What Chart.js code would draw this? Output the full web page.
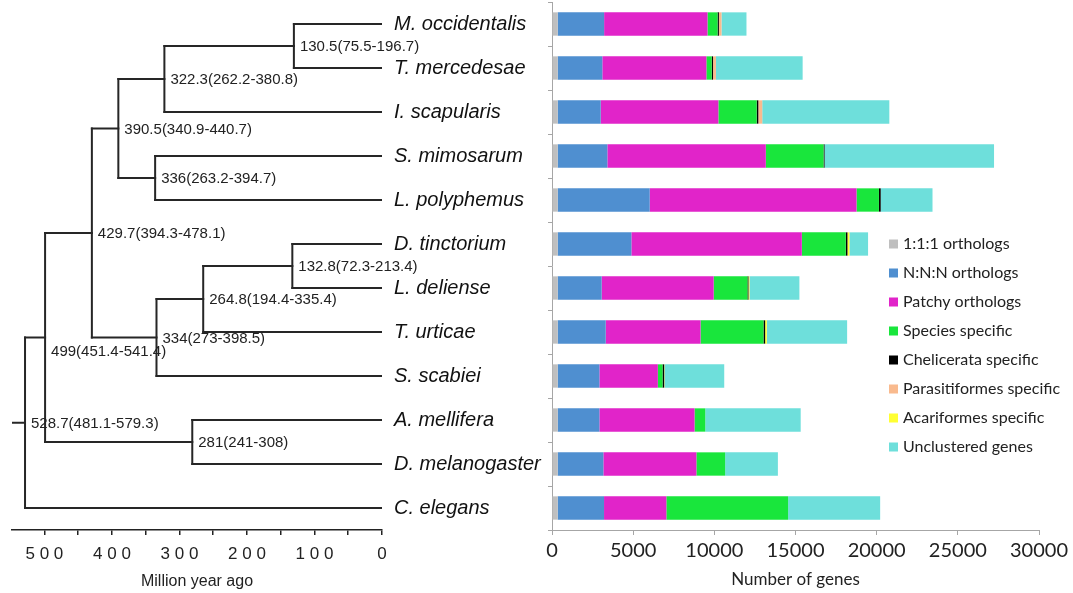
<!DOCTYPE html>
<html>
<head>
<meta charset="utf-8">
<script src="https://cdn.jsdelivr.net/npm/chart.js@4"></script>
<style>
  body { margin: 0; background: #fff; width: 1073px; height: 593px; overflow: hidden; position: relative; }
  #treeChart { position: absolute; left: 0; top: 0; }
  #geneChart { position: absolute; left: 540px; top: 0; }
</style>
</head>
<body>
<canvas id="treeChart" width="547" height="593"></canvas>
<canvas id="geneChart" width="533" height="593"></canvas>
<script>
// ---------------- data ----------------
const species = ['M. occidentalis', 'T. mercedesae', 'I. scapularis', 'S. mimosarum', 'L. polyphemus',
  'D. tinctorium', 'L. deliense', 'T. urticae', 'S. scabiei', 'A. mellifera', 'D. melanogaster', 'C. elegans'];

// internal nodes of the tree (age in million years, label, two children)
const nodeAges = [130.5, 322.3, 336, 390.5, 132.8, 264.8, 334, 429.7, 281, 499, 528.7];
const nodeLabels = ['130.5(75.5-196.7)', '322.3(262.2-380.8)', '336(263.2-394.7)', '390.5(340.9-440.7)',
  '132.8(72.3-213.4)', '264.8(194.4-335.4)', '334(273-398.5)', '429.7(394.3-478.1)',
  '281(241-308)', '499(451.4-541.4)', '528.7(481.1-579.3)'];
const nodeChildren = [
  ['s0', 's1'], ['n0', 's2'], ['s3', 's4'], ['n1', 'n2'],
  ['s5', 's6'], ['n4', 's7'], ['n5', 's8'], ['n3', 'n6'],
  ['s9', 's10'], ['n7', 'n8'], ['n9', 's11']
];
const rootStubAge = 548;
const ageTicks = [0, 50, 100, 150, 200, 250, 300, 350, 400, 450, 500];

const groups = ['1:1:1 orthologs', 'N:N:N orthologs', 'Patchy orthologs', 'Species specific',
  'Chelicerata specific', 'Parasitiformes specific', 'Acariformes specific', 'Unclustered genes'];
const colors = ['#bfbfbf', '#4f8fd0', '#e124c9', '#19e63c', '#000000', '#f9ba8e', '#ffff33', '#6edfdb'];

const ortho111    = [350, 350, 350, 350, 350, 350, 350, 350, 350, 350, 350, 350];
const orthoNNN    = [2860, 2750, 2650, 3060, 5670, 4540, 2710, 2960, 2570, 2570, 2815, 2855];
const patchy      = [6370, 6410, 7250, 9760, 12740, 10500, 6900, 5840, 3600, 5860, 5730, 3840];
const speciesSpec = [620, 330, 2360, 3560, 1380, 2710, 2080, 3880, 290, 660, 1770, 7500];
const chelicerata = [80, 80, 100, 60, 110, 100, 60, 100, 100, 0, 0, 0];
const parasiti    = [160, 180, 240, 0, 0, 0, 0, 0, 0, 0, 0, 0];
const acari       = [0, 0, 0, 0, 0, 120, 60, 100, 20, 0, 0, 0];
const unclustered = [1540, 5340, 7830, 10440, 3190, 1150, 3080, 4950, 3680, 5880, 3250, 5670];
const series = [ortho111, orthoNNN, patchy, speciesSpec, chelicerata, parasiti, acari, unclustered];

// ---------------- tree geometry ----------------
function nodePos(id) {
  const i = Number(id.slice(1));
  if (id[0] === 's') return { age: 0, row: i };
  const a = nodePos(nodeChildren[i][0]);
  const b = nodePos(nodeChildren[i][1]);
  return { age: nodeAges[i], row: (a.row + b.row) / 2 };
}

const branches = [];
nodeChildren.forEach((kids, i) => {
  const p = nodePos('n' + i);
  const a = nodePos(kids[0]);
  const b = nodePos(kids[1]);
  branches.push([{ x: p.age, y: a.row }, { x: p.age, y: b.row }]);
  branches.push([{ x: p.age, y: a.row }, { x: a.age, y: a.row }]);
  branches.push([{ x: p.age, y: b.row }, { x: b.age, y: b.row }]);
});
const rootPos = nodePos('n' + (nodeAges.length - 1));
branches.push([{ x: rootStubAge, y: rootPos.row }, { x: rootPos.age, y: rootPos.row }]);

// labels sit by the middle of their node; the 499 one is pushed lower
const labelDrop = { 9: 14 };

const nodeLabelPlugin = {
  id: 'nodeLabels',
  afterDatasetsDraw(chart) {
    const { ctx, scales: { x, y } } = chart;
    ctx.save();
    ctx.font = '15px "Liberation Sans", Arial, sans-serif';
    ctx.fillStyle = '#222';
    ctx.textAlign = 'left';
    ctx.textBaseline = 'middle';
    nodeAges.forEach((age, i) => {
      const p = nodePos('n' + i);
      const drop = labelDrop[i] !== undefined ? labelDrop[i] : 1;
      ctx.fillText(nodeLabels[i], x.getPixelForValue(age) + 6, y.getPixelForValue(p.row) + drop);
    });
    ctx.restore();
  }
};

new Chart(document.getElementById('treeChart'), {
  type: 'scatter',
  data: {
    datasets: branches.map(seg => ({
      data: seg,
      showLine: true,
      borderColor: '#262626',
      borderWidth: 2,
      pointRadius: 0,
      borderCapStyle: 'square'
    }))
  },
  options: {
    responsive: false,
    animation: false,
    layout: { padding: { left: 12, top: 2, right: 0, bottom: 0 } },
    plugins: { legend: { display: false }, tooltip: { enabled: false } },
    scales: {
      x: {
        type: 'linear',
        reverse: true,
        min: 0,
        max: rootStubAge,
        afterBuildTicks: s => { s.ticks = ageTicks.map(v => ({ value: v })); },
        ticks: {
          autoSkip: false,
          maxRotation: 0,
          padding: 9,
          color: '#222',
          font: { family: 'Liberation Sans', size: 17 },
          callback: v => (v % 100 === 0 ? String(v).split('').join(' ') : '')
        },
        grid: { drawOnChartArea: false, tickLength: 5, color: '#222', lineWidth: 1.5 },
        border: { color: '#222', width: 1.5 },
        title: {
          display: true,
          text: 'Million year ago',
          color: '#222',
          font: { family: 'Liberation Sans', size: 16 },
          padding: { top: 0, bottom: 2 }
        },
        afterFit: s => { s.height = 63; s.paddingLeft = 0; s.paddingRight = 0; }
      },
      y: {
        type: 'linear',
        position: 'right',
        reverse: true,
        min: -0.5,
        max: species.length - 0.5,
        afterBuildTicks: s => { s.ticks = species.map((_, i) => ({ value: i })); },
        ticks: {
          autoSkip: false,
          crossAlign: 'near',
          padding: 12,
          color: '#111',
          font: { family: 'Liberation Sans', size: 20, style: 'italic' },
          callback: v => species[v]
        },
        grid: { display: false, drawTicks: false },
        border: { display: false },
        afterFit: s => { s.width = 165; s.paddingTop = 0; s.paddingBottom = 0; }
      }
    }
  },
  plugins: [nodeLabelPlugin]
});

// ---------------- gene bars ----------------
const legendPlugin = {
  id: 'insideLegend',
  afterDraw(chart) {
    const { ctx } = chart;
    ctx.save();
    ctx.font = '16px Lato, sans-serif';
    ctx.textAlign = 'left';
    ctx.textBaseline = 'middle';
    chart.data.datasets.forEach((ds, i) => {
      const y = 244 + i * 29;
      ctx.fillStyle = ds.backgroundColor;
      ctx.fillRect(349, y - 4.5, 9, 9);
      ctx.fillStyle = '#222';
      ctx.fillText(ds.label, 363, y);
    });
    ctx.restore();
  }
};

new Chart(document.getElementById('geneChart'), {
  type: 'bar',
  data: {
    labels: species,
    datasets: groups.map((g, i) => ({
      label: g,
      data: series[i],
      backgroundColor: colors[i],
      barPercentage: 0.53,
      categoryPercentage: 1
    }))
  },
  options: {
    indexAxis: 'y',
    responsive: false,
    animation: false,
    layout: { padding: { left: 0, top: 2, right: 34, bottom: 0 } },
    plugins: { legend: { display: false }, tooltip: { enabled: false } },
    scales: {
      x: {
        stacked: true,
        min: 0,
        max: 30000,
        ticks: {
          stepSize: 5000,
          maxRotation: 0,
          padding: 4,
          color: '#222',
          font: { family: 'Lato', size: 20 },
          callback: v => String(v)
        },
        grid: { drawOnChartArea: false, tickLength: 5, color: '#a6a6a6' },
        border: { color: '#a6a6a6' },
        title: {
          display: true,
          text: 'Number of genes',
          color: '#222',
          font: { family: 'Lato', size: 17 },
          padding: { top: 0, bottom: 3 }
        },
        afterFit: s => { s.height = 63; }
      },
      y: {
        stacked: true,
        ticks: { display: false },
        grid: { drawOnChartArea: false, offset: true, tickLength: 4, color: '#a6a6a6' },
        border: { color: '#a6a6a6' },
        afterFit: s => { s.width = 12; }
      }
    }
  },
  plugins: [legendPlugin]
});
</script>
</body>
</html>
